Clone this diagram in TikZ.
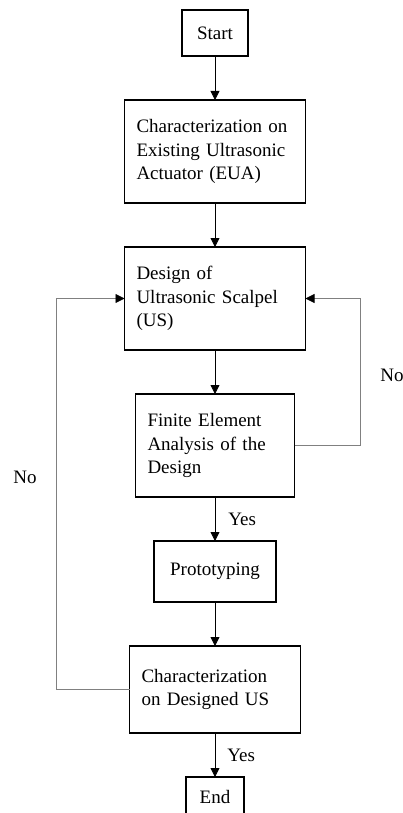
\documentclass[tikz,border=0pt]{standalone}
\usepackage{fontspec}
\setmainfont{Liberation Serif}
\usetikzlibrary{arrows.meta, positioning}

\begin{document}
\begin{tikzpicture}[
  x=1pt, y=-1pt,
  node distance=44pt,
  every node/.style={font=\fontsize{19}{23.4}\selectfont},
  stepbox/.style={rectangle, draw, line width=1.4pt, align=left,
    inner xsep=12pt, inner ysep=0pt, outer sep=0pt},
  endbox/.style={rectangle, draw, line width=1.4pt, align=center,
    inner sep=0pt, outer sep=0pt},
  flow/.style={draw, line width=0.8pt, -{Triangle[length=9pt, width=9pt]}},
  feedback/.style={draw, line width=0.8pt, gray,
    -{Triangle[length=9pt, width=9pt, color=black, fill=black]}},
  tag/.style={inner sep=0pt}
]
\useasboundingbox (0,0) rectangle (403,813);

\node[endbox, minimum width=66pt, minimum height=46pt] (start) at (215,33) {Start};
\node[stepbox, below=of start, text width=157pt, minimum height=103pt] (charEUA)
  {Characterization on\\Existing Ultrasonic\\Actuator (EUA)};
\node[stepbox, below=of charEUA, text width=157pt, minimum height=103pt] (design)
  {Design of\\Ultrasonic Scalpel\\(US)};
\node[stepbox, below=of design, text width=135pt, minimum height=103pt] (fea)
  {Finite Element\\Analysis of the\\Design};
\node[endbox, below=of fea, minimum width=122pt, minimum height=61pt] (proto) {Prototyping};
\node[stepbox, below=of proto, text width=147pt, minimum height=87pt] (charUS)
  {Characterization\\on Designed US};
\node[endbox, below=of charUS, minimum width=58pt, minimum height=40pt] (finish) {End};

\draw[flow] (start) -- (charEUA);
\draw[flow] (charEUA) -- (design);
\draw[flow] (design) -- (fea);
\draw[flow] (fea) -- node[tag, anchor=west, xshift=13pt] {Yes} (proto);
\draw[flow] (proto) -- (charUS);
\draw[flow] (charUS) -- node[tag, anchor=west, xshift=12pt] {Yes} (finish);

\draw[feedback] (fea.east) -- ++(66,0) |- (design.east);
\draw[feedback] (charUS.west) -- ++(-73,0) |- (design.west);

\node[tag] (noRight) at (392,375) {No};
\node[tag] (noLeft) at (25,477) {No};

\end{tikzpicture}
\end{document}
